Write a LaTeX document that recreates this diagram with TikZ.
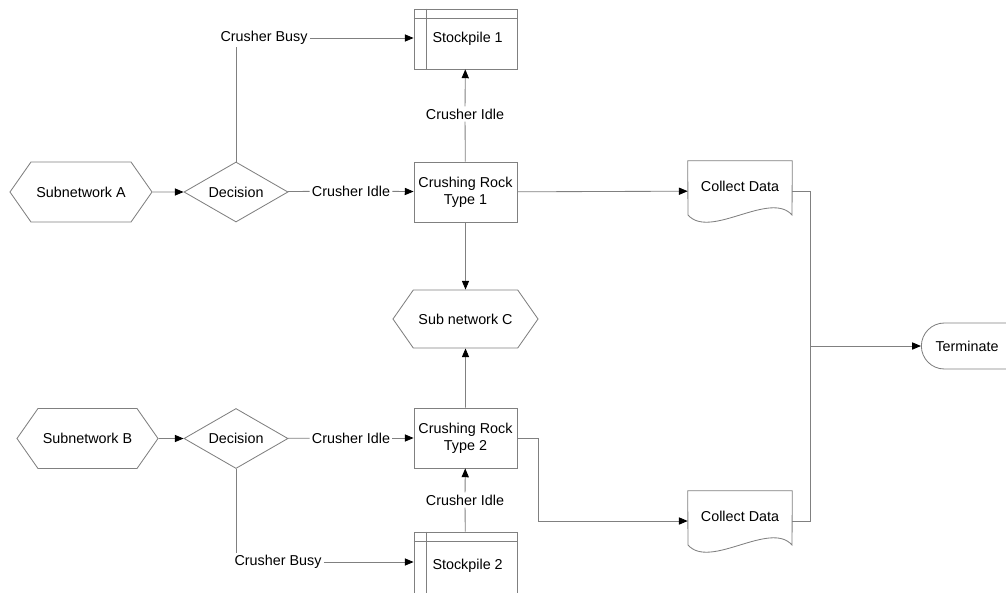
\documentclass[tikz,border=0pt]{standalone}
\usepackage{fontspec}
\setmainfont{Liberation Sans}
\usetikzlibrary{calc,arrows.meta,shapes.geometric,shapes.symbols,shapes.misc}

% extra lines of a stockpile box
\newcommand\pilelines[1]{%
  \draw[line] ($(#1.north west)+(13,0)$) -- ($(#1.south west)+(13,0)$);
  \draw[line] ($(#1.north west)+(0,10)$) -- ($(#1.north east)+(0,10)$);}
% document outline with wavy bottom
\newcommand\docoutline[1]{%
  \draw[line] ($(#1.center)+(-52,24)$) -- (#1.north west) -- (#1.north east) -- ($(#1.center)+(52,24)$)
    .. controls ($(#1.center)+(30,-1)$) and ($(#1.center)+(-30,49)$) .. ($(#1.center)+(-52,24)$);}

\begin{document}
\begin{tikzpicture}[x=0.025cm, y=-0.025cm,
    font=\fontsize{10.2}{11.8}\selectfont,
    line/.style={draw=gray, line width=0.6pt},
    arrow/.style={line, -{Triangle[length=2.2mm, width=1.8mm, black]}},
    box/.style={line, rectangle, minimum width=2.575cm, minimum height=1.5cm, align=center, inner sep=0pt},
    hexa/.style={line, signal, signal to=west and east, signal pointer angle=110, minimum height=1.5cm, inner sep=0pt},
    decision/.style={line, diamond, minimum width=2.6cm, minimum height=1.5cm, aspect=1.73, inner sep=0pt},
    lbl/.style={inner sep=1.5pt},
    doc/.style={rectangle, minimum width=2.6cm, minimum height=1.5cm, inner sep=0pt},
    terminal/.style={line, rounded rectangle, rounded rectangle right arc=none, minimum width=2.5cm, minimum height=1.15cm}]

    \useasboundingbox (0,0) rectangle (1006,592);
    \clip (0,0) rectangle (1006,592);

    % Upper branch
    \node[hexa, minimum width=3.55cm] (subA) at (81,192) {Subnetwork A};
    \node[decision] (decA) at (236,192) {Decision};
    \node[lbl] (idleA) at (351,191) {Crusher Idle};
    \node[box] (crush1) at (465.5,192) {Crushing Rock\\Type 1};
    \node[box] (stock1) at (465.5,39) {\hspace{3pt}Stockpile 1};
    \pilelines{stock1}
    \node[lbl] (busyA) at (264,38) {Crusher Busy};
    \node[lbl] (upA) at (465,114) {Crusher Idle};

    \draw[arrow] (subA) -- (decA);
    \draw[line] (decA) -- (idleA);
    \draw[arrow] (idleA) -- (crush1);
    \draw[line] (decA.north) -- (decA.north |- busyA.south);
    \draw[arrow] (busyA.east) -- (busyA.east -| stock1.west);
    \draw[line] (crush1) -- (upA);
    \draw[arrow] (upA) -- (stock1);

    % Shared subnetwork
    \node[hexa, minimum width=3.625cm, minimum height=1.45cm] (subC) at (465.5,319) {Sub network C};
    \draw[arrow] (crush1) -- (subC);

    % Lower branch
    \node[hexa, minimum width=3.525cm] (subB) at (87.5,438.5) {Subnetwork B};
    \node[decision] (decB) at (236,438.5) {Decision};
    \node[lbl] (idleB) at (351,438) {Crusher Idle};
    \node[box] (crush2) at (465.5,438) {Crushing Rock\\Type 2};
    \node[box, minimum height=1.75cm] (stock2) at (465.5,567) {\hspace{3pt}\raisebox{0.125cm}{Stockpile 2}};
    \pilelines{stock2}
    \node[lbl] (busyB) at (278,562) {Crusher Busy};
    \node[lbl] (upB) at (465,500) {Crusher Idle};

    \draw[arrow] (subB) -- (decB);
    \draw[line] (decB) -- (idleB);
    \draw[arrow] (idleB) -- (crush2);
    \draw[line] (decB.south) -- (decB.south |- busyB.north);
    \draw[arrow] (busyB.east) -- (busyB.east -| stock2.west);
    \draw[line] (stock2) -- (upB);
    \draw[arrow] (upB) -- (crush2);
    \draw[arrow] (crush2) -- (subC);

    % Data collection and end
    \node[doc] (coll1) at (740,191) {\raisebox{0.225cm}{Collect Data}};
    \docoutline{coll1}
    \node[doc] (coll2) at (740,521) {\raisebox{0.225cm}{Collect Data}};
    \docoutline{coll2}
    \node[terminal] (term) at (967,346) {Terminate};

    \draw[arrow] (crush1) -- (coll1);
    \draw[arrow] (crush2.east) -- ++(21,0) |- (coll2.west);
    \coordinate (bus) at (810,191);
    \draw[line] (coll1.east) -- (bus) -- (bus |- coll2.east) -- (coll2.east);
    \draw[arrow] (bus |- term.west) -- (term.west);

\end{tikzpicture}
\end{document}
